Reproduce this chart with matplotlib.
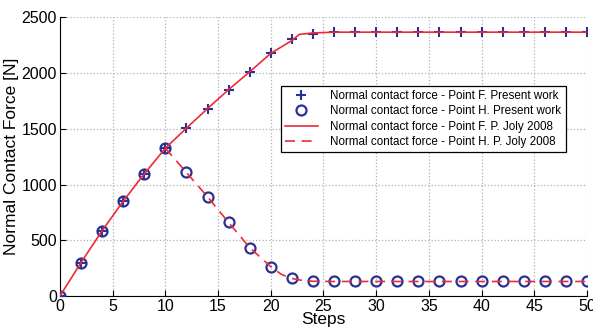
import numpy as np
import matplotlib.pyplot as plt

plt.rcParams['font.family'] = ['Liberation Sans', 'DejaVu Sans']

# present work (markers)
steps = np.arange(0, 52, 2)
force_f = [0, 300, 585, 850, 1095, 1325, 1505, 1680, 1850, 2010, 2175, 2300, 2350,
           2365, 2365, 2365, 2365, 2365, 2365, 2365, 2365, 2365, 2365, 2365, 2365, 2365]
force_h = [0, 300, 585, 850, 1095, 1325, 1108, 890, 660, 434, 264, 158, 131,
           131, 131, 131, 131, 131, 131, 131, 131, 131, 131, 131, 131, 131]

# P. Joly 2008 (lines)
joly_f_steps = [0, 2, 4, 6, 8, 10, 12, 14, 16, 18, 20, 22, 22.7, 24, 26, 50]
joly_f = [0, 300, 585, 850, 1095, 1325, 1505, 1680, 1850, 2010, 2175, 2290, 2345, 2358, 2365, 2365]
joly_h_steps = [10, 12, 14, 16, 18, 20, 21, 22, 23, 24, 26, 50]
joly_h = [1325, 1108, 890, 660, 434, 264, 195, 158, 140, 133, 131, 131]

red = '#ee2a35'
blue = '#2a3192'

fig = plt.figure(figsize=(5.93, 3.29), dpi=100)
ax = fig.add_axes([0.101, 0.100, 0.889, 0.848])

ax.plot(steps, force_f, linestyle='None', marker='+', markersize=7.5, mew=1.5,
        color=blue, label='Normal contact force - Point F. Present work', zorder=3)
ax.plot(steps, force_h, linestyle='None', marker='o', markersize=7.2, mew=1.6,
        mfc='none', color=blue, label='Normal contact force - Point H. Present work', zorder=3)
ax.plot(joly_f_steps, joly_f, color=red, lw=1.2,
        label='Normal contact force - Point F. P. Joly 2008', zorder=4)
ax.plot(joly_h_steps, joly_h, color=red, lw=1.2, dashes=(6, 4),
        label='Normal contact force - Point H. P. Joly 2008', zorder=4)

ax.set_xlim(0, 50)
ax.set_ylim(0, 2500)
ax.set_xticks(np.arange(0, 51, 5))
ax.set_yticks(np.arange(0, 2501, 500))
ax.tick_params(direction='in', labelsize=11.5, length=4, pad=2)
ax.grid(True, linestyle=':', color='#b0b0b0', lw=0.9)
ax.spines['top'].set_visible(False)
ax.spines['right'].set_visible(False)
ax.set_xlabel('Steps', fontsize=12.5, labelpad=-1)
ax.set_ylabel('Normal Contact Force [N]', fontsize=12.5, labelpad=2)

leg = ax.legend(loc='upper left', bbox_to_anchor=(0.419, 0.753), borderaxespad=0,
                fontsize=8.4, frameon=True, fancybox=False, edgecolor='black',
                framealpha=1, handlelength=2.8, borderpad=0.35, labelspacing=0.28,
                handletextpad=1.1)
leg.get_frame().set_linewidth(0.9)

fig.savefig('out.png', dpi=100)
